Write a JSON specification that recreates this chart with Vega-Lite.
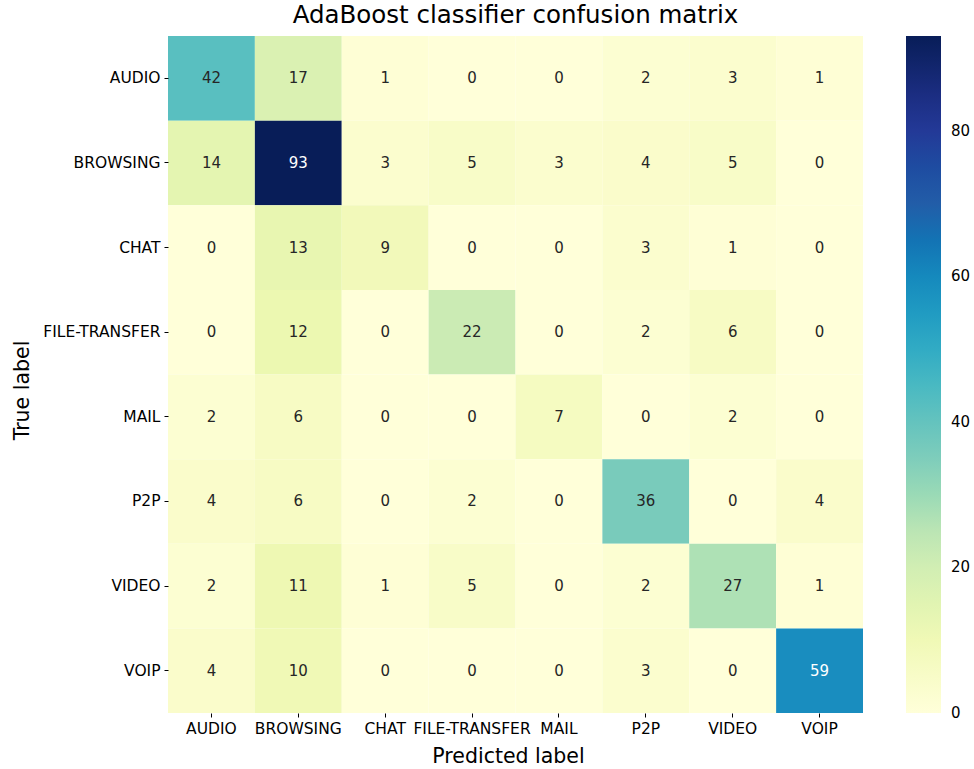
{
  "$schema": "https://vega.github.io/schema/vega-lite/v6.json",
  "autosize": {"type": "none"},
  "width": 695,
  "height": 677,
  "padding": {"left": 168, "top": 36, "right": 111, "bottom": 56},
  "background": "white",
  "config": {
    "font": "DejaVu Sans",
    "view": {"stroke": null},
    "axis": {"labelFont": "DejaVu Sans", "titleFont": "DejaVu Sans", "labelColor": "black", "titleColor": "black", "tickColor": "black", "domain": false, "grid": false, "titleFontWeight": "normal"}
  },
  "title": {"text": "AdaBoost classifier confusion matrix", "fontSize": 24.5, "fontWeight": "normal", "font": "DejaVu Sans", "color": "black", "anchor": "middle", "offset": 8},
  "data": {"values": [
    {"true": "AUDIO", "pred": "AUDIO", "n": 42}, {"true": "AUDIO", "pred": "BROWSING", "n": 17}, {"true": "AUDIO", "pred": "CHAT", "n": 1}, {"true": "AUDIO", "pred": "FILE-TRANSFER", "n": 0}, {"true": "AUDIO", "pred": "MAIL", "n": 0}, {"true": "AUDIO", "pred": "P2P", "n": 2}, {"true": "AUDIO", "pred": "VIDEO", "n": 3}, {"true": "AUDIO", "pred": "VOIP", "n": 1},
    {"true": "BROWSING", "pred": "AUDIO", "n": 14}, {"true": "BROWSING", "pred": "BROWSING", "n": 93}, {"true": "BROWSING", "pred": "CHAT", "n": 3}, {"true": "BROWSING", "pred": "FILE-TRANSFER", "n": 5}, {"true": "BROWSING", "pred": "MAIL", "n": 3}, {"true": "BROWSING", "pred": "P2P", "n": 4}, {"true": "BROWSING", "pred": "VIDEO", "n": 5}, {"true": "BROWSING", "pred": "VOIP", "n": 0},
    {"true": "CHAT", "pred": "AUDIO", "n": 0}, {"true": "CHAT", "pred": "BROWSING", "n": 13}, {"true": "CHAT", "pred": "CHAT", "n": 9}, {"true": "CHAT", "pred": "FILE-TRANSFER", "n": 0}, {"true": "CHAT", "pred": "MAIL", "n": 0}, {"true": "CHAT", "pred": "P2P", "n": 3}, {"true": "CHAT", "pred": "VIDEO", "n": 1}, {"true": "CHAT", "pred": "VOIP", "n": 0},
    {"true": "FILE-TRANSFER", "pred": "AUDIO", "n": 0}, {"true": "FILE-TRANSFER", "pred": "BROWSING", "n": 12}, {"true": "FILE-TRANSFER", "pred": "CHAT", "n": 0}, {"true": "FILE-TRANSFER", "pred": "FILE-TRANSFER", "n": 22}, {"true": "FILE-TRANSFER", "pred": "MAIL", "n": 0}, {"true": "FILE-TRANSFER", "pred": "P2P", "n": 2}, {"true": "FILE-TRANSFER", "pred": "VIDEO", "n": 6}, {"true": "FILE-TRANSFER", "pred": "VOIP", "n": 0},
    {"true": "MAIL", "pred": "AUDIO", "n": 2}, {"true": "MAIL", "pred": "BROWSING", "n": 6}, {"true": "MAIL", "pred": "CHAT", "n": 0}, {"true": "MAIL", "pred": "FILE-TRANSFER", "n": 0}, {"true": "MAIL", "pred": "MAIL", "n": 7}, {"true": "MAIL", "pred": "P2P", "n": 0}, {"true": "MAIL", "pred": "VIDEO", "n": 2}, {"true": "MAIL", "pred": "VOIP", "n": 0},
    {"true": "P2P", "pred": "AUDIO", "n": 4}, {"true": "P2P", "pred": "BROWSING", "n": 6}, {"true": "P2P", "pred": "CHAT", "n": 0}, {"true": "P2P", "pred": "FILE-TRANSFER", "n": 2}, {"true": "P2P", "pred": "MAIL", "n": 0}, {"true": "P2P", "pred": "P2P", "n": 36}, {"true": "P2P", "pred": "VIDEO", "n": 0}, {"true": "P2P", "pred": "VOIP", "n": 4},
    {"true": "VIDEO", "pred": "AUDIO", "n": 2}, {"true": "VIDEO", "pred": "BROWSING", "n": 11}, {"true": "VIDEO", "pred": "CHAT", "n": 1}, {"true": "VIDEO", "pred": "FILE-TRANSFER", "n": 5}, {"true": "VIDEO", "pred": "MAIL", "n": 0}, {"true": "VIDEO", "pred": "P2P", "n": 2}, {"true": "VIDEO", "pred": "VIDEO", "n": 27}, {"true": "VIDEO", "pred": "VOIP", "n": 1},
    {"true": "VOIP", "pred": "AUDIO", "n": 4}, {"true": "VOIP", "pred": "BROWSING", "n": 10}, {"true": "VOIP", "pred": "CHAT", "n": 0}, {"true": "VOIP", "pred": "FILE-TRANSFER", "n": 0}, {"true": "VOIP", "pred": "MAIL", "n": 0}, {"true": "VOIP", "pred": "P2P", "n": 3}, {"true": "VOIP", "pred": "VIDEO", "n": 0}, {"true": "VOIP", "pred": "VOIP", "n": 59}
  ]},
  "encoding": {
    "x": {
      "field": "pred", "type": "nominal", "sort": null,
      "scale": {"paddingInner": 0, "paddingOuter": 0},
      "axis": {"title": "Predicted label", "labelAngle": 0, "labelFontSize": 15.5, "tickSize": 4, "labelPadding": 4, "titleFontSize": 20.5, "titleBaseline": "alphabetic", "titleY": 49, "titleX": 340, "titleAlign": "center"}
    },
    "y": {
      "field": "true", "type": "nominal", "sort": null,
      "scale": {"paddingInner": 0, "paddingOuter": 0},
      "axis": {"title": "True label", "labelFontSize": 15.5, "tickSize": 4, "labelPadding": 4, "titleFontSize": 20.5, "titleAngle": -90, "titleBaseline": "middle", "titleX": -146, "titleY": 354, "titleAlign": "center"}
    }
  },
  "layer": [
    {
      "mark": {"type": "rect"},
      "encoding": {
        "color": {
          "field": "n", "type": "quantitative",
          "scale": {
            "domain": [0, 11.625, 23.25, 34.875, 46.5, 58.125, 69.75, 81.375, 93],
            "range": ["#ffffd9", "#edf8b1", "#c7e9b4", "#7fcdbb", "#41b6c4", "#1d91c0", "#225ea8", "#253494", "#081d58"]
          },
          "legend": {
            "title": null, "orient": "none", "direction": "vertical",
            "legendX": 738, "legendY": 0,
            "gradientLength": 677, "gradientThickness": 35, "gradientStrokeWidth": 0,
            "values": [0, 20, 40, 60, 80],
            "labelFontSize": 15, "labelColor": "black", "labelFont": "DejaVu Sans", "labelOffset": 10,
            "encode": {"labels": {"update": {"baseline": {"value": "middle"}}}}
          }
        }
      }
    },
    {
      "mark": {"type": "text", "fontSize": 15, "font": "DejaVu Sans"},
      "encoding": {
        "text": {"field": "n", "type": "quantitative"},
        "color": {"condition": {"test": "datum.n > 50", "value": "white"}, "value": "#262626"}
      }
    }
  ]
}
